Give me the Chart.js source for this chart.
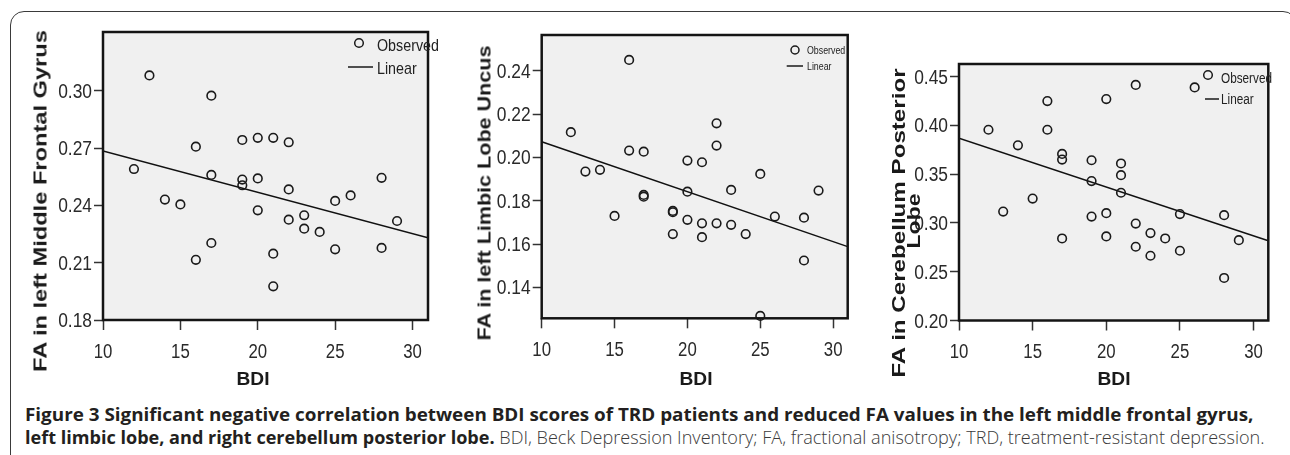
<!DOCTYPE html>
<html>
<head>
<meta charset="utf-8">
<title>Figure 3 - BDI vs FA</title>
<script src="https://cdn.jsdelivr.net/npm/chart.js"></script>
<style>
  html, body { margin: 0; padding: 0; background: #fff; }
  body { width: 1290px; height: 455px; position: relative; overflow: hidden; }
  .frame { position: absolute; left: 10px; top: 11px; width: 1287px; height: 500px;
           border: 1.5px solid #3a3a3a; border-radius: 14px; box-sizing: border-box; }
  canvas { position: absolute; top: 0; }
  .t { position: absolute; white-space: nowrap; line-height: 1; color: #1a1a1a;
       font-family: "Liberation Sans", Arial, sans-serif; font-weight: bold; }
  .cap { position: absolute; left: 25px; white-space: nowrap; line-height: 18px; font-size: 18px;
         font-family: "Open Sans", sans-serif; color: #231f20; transform-origin: 0 50%; }
  .cap b { font-weight: 700; }
  .cap span.lt { font-weight: 300; color: #3a3a3a; }
</style>
</head>
<body>
<div class="frame"></div>

<canvas id="c1" width="395" height="370" style="left:50px"></canvas>
<canvas id="c2" width="365" height="370" style="left:490px"></canvas>
<canvas id="c3" width="380" height="370" style="left:905px"></canvas>

<!-- axis titles -->
<div class="t fit" data-len="342" data-rot="1" data-cx="40" data-cy="201" style="font-size:19px">FA in left Middle Frontal Gyrus</div>
<div class="t fit" data-len="295" data-rot="1" data-cx="483.5" data-cy="192.5" style="font-size:19px">FA in left Limbic Lobe Uncus</div>
<div class="t fit" data-len="309" data-rot="1" data-cx="898" data-cy="222.5" style="font-size:19px">FA in Cerebellum Posterior</div>
<div class="t fit" data-len="55" data-rot="1" data-cx="913" data-cy="220.5" style="font-size:19px">Lobe</div>
<div class="t fit" data-len="33" data-cx="253" data-cy="378" style="font-size:19px">BDI</div>
<div class="t fit" data-len="33" data-cx="696" data-cy="378" style="font-size:19px">BDI</div>
<div class="t fit" data-len="33" data-cx="1113.5" data-cy="378" style="font-size:19px">BDI</div>

<!-- caption -->
<div class="cap fitcap" data-len="1228" style="top:405px"><b>Figure 3 Significant negative correlation between BDI scores of TRD patients and reduced FA values in the left middle frontal gyrus,</b></div>
<div class="cap fitcap" data-len="1240" style="top:428px"><b>left limbic lobe, and right cerebellum posterior lobe.</b> <span class="lt">BDI, Beck Depression Inventory; FA, fractional anisotropy; TRD, treatment-resistant depression.</span></div>

<script>
// BDI score of each patient (same set in all three panels)
const bdi = [12, 13, 14, 15, 16, 16, 17, 17, 17, 19, 19, 19, 20, 20, 20,
             21, 21, 21, 22, 22, 22, 23, 23, 24, 25, 25, 26, 28, 28, 29];

// FA values, in the same order as bdi
const faFrontal = [0.259, 0.308, 0.243, 0.2405, 0.2707, 0.2115, 0.2974, 0.2559, 0.2203,
                   0.2742, 0.2535, 0.2505, 0.2753, 0.2541, 0.2374, 0.2753, 0.2147, 0.1976,
                   0.273, 0.2483, 0.2325, 0.2348, 0.2278, 0.2261, 0.2423, 0.217, 0.2452,
                   0.2544, 0.2177, 0.2318];
const faLimbic = [0.2117, 0.1935, 0.1943, 0.173, 0.2451, 0.2032, 0.2027, 0.1827, 0.1819,
                  0.1753, 0.1747, 0.1646, 0.1986, 0.1842, 0.1712, 0.1978, 0.1696, 0.1632,
                  0.2158, 0.2055, 0.1696, 0.185, 0.1689, 0.1646, 0.1924, 0.1268, 0.1727,
                  0.1722, 0.1524, 0.1847];
const faCerebellum = [0.3956, 0.3117, 0.3796, 0.325, 0.425, 0.3956, 0.3708, 0.365, 0.2841,
                      0.3643, 0.343, 0.3066, 0.427, 0.31, 0.2862, 0.361, 0.349, 0.331,
                      0.4415, 0.2994, 0.2756, 0.2896, 0.2664, 0.2841, 0.3091, 0.2715, 0.439,
                      0.308, 0.2436, 0.2824];

// linear fit end points (x = 10 and x = 31)
const fitX = [10, 31];
const fitFrontal = [0.2685, 0.223];
const fitLimbic = [0.2073, 0.1588];
const fitCerebellum = [0.387, 0.2817];

// tick labels
const xTicks = [10, 15, 20, 25, 30];
const yTicksFrontal = [0.18, 0.21, 0.24, 0.27, 0.30];
const yTicksLimbic = [0.14, 0.16, 0.18, 0.20, 0.22, 0.24];
const yTicksCerebellum = [0.20, 0.25, 0.30, 0.35, 0.40, 0.45];

const legendLabels = ['Observed', 'Linear'];

const sans = "'Liberation Sans', Arial, sans-serif";
const ink = '#1a1a1a';

// narrow text: regular sans squeezed sideways (the figure's fonts are condensed)
function narrowText(ctx, str, x, y, size, align, sx) {
    ctx.save();
    ctx.font = size + 'px ' + sans;
    ctx.textAlign = align;
    ctx.textBaseline = 'alphabetic';
    ctx.translate(x, y);
    ctx.scale(sx, 1);
    ctx.fillText(str, 0, 0);
    ctx.restore();
}

// grey plot area, frame, tick labels and the little legend in the corner
const decor = {
    id: 'decor',
    beforeDraw(chart) {
        const a = chart.chartArea, ctx = chart.ctx;
        ctx.save();
        ctx.fillStyle = '#f0f0f0';
        ctx.fillRect(a.left, a.top, a.right - a.left, a.bottom - a.top);
        ctx.restore();
    },
    afterDraw(chart, args, opts) {
        const a = chart.chartArea, ctx = chart.ctx, lg = opts.legend;
        const xs = chart.scales.x, ys = chart.scales.y;
        ctx.save();
        ctx.strokeStyle = '#141414';
        ctx.lineWidth = 2.5;
        ctx.strokeRect(a.left, a.top, a.right - a.left, a.bottom - a.top);

        // tick labels
        ctx.fillStyle = '#2a2a2a';
        xs.ticks.forEach(t => {
            narrowText(ctx, String(t.value), xs.getPixelForValue(t.value), a.bottom + 37.5, 20, 'center', 0.84);
        });
        ys.ticks.forEach(t => {
            narrowText(ctx, t.value.toFixed(2), a.left - 11, ys.getPixelForValue(t.value) + 7, 20, 'right', 0.87);
        });

        // legend
        ctx.strokeStyle = ink;
        ctx.lineWidth = 1.5;
        ctx.beginPath();
        ctx.arc(lg.cx, lg.cy, lg.r, 0, Math.PI * 2);
        ctx.stroke();
        ctx.beginPath();
        ctx.moveTo(lg.lx1, lg.ly);
        ctx.lineTo(lg.lx2, lg.ly);
        ctx.stroke();
        ctx.fillStyle = '#222';
        narrowText(ctx, legendLabels[0], lg.tx, lg.ty1, lg.size, 'left', 0.84);
        narrowText(ctx, legendLabels[1], lg.tx, lg.ty2, lg.size, 'left', 0.84);
        ctx.restore();
    }
};

function makePanel(id, fa, fit, yMin, yMax, yTicks, box, legend) {
    const ctx = document.getElementById(id).getContext('2d');
    return new Chart(ctx, {
        type: 'scatter',
        data: {
            datasets: [{
                label: legendLabels[0],
                data: bdi.map((x, i) => ({ x: x, y: fa[i] })),
                pointStyle: 'circle',
                pointRadius: 4.3,
                pointBorderWidth: 1.6,
                pointBorderColor: ink,
                pointBackgroundColor: 'rgba(0,0,0,0)',
                clip: false
            }, {
                label: legendLabels[1],
                data: fitX.map((x, i) => ({ x: x, y: fit[i] })),
                showLine: true,
                borderColor: '#111',
                borderWidth: 1.5,
                pointRadius: 0
            }]
        },
        options: {
            responsive: false,
            animation: false,
            events: [],
            layout: { autoPadding: false, padding: { left: 0, top: box.top, right: box.right, bottom: 0 } },
            plugins: {
                legend: { display: false },
                tooltip: { enabled: false },
                decor: { legend: legend }
            },
            scales: {
                x: {
                    type: 'linear',
                    min: 10,
                    max: 31,
                    afterBuildTicks: s => { s.ticks = xTicks.map(v => ({ value: v })); },
                    afterFit: s => { s.height = box.xh; },
                    border: { display: false },
                    grid: { drawOnChartArea: false, drawTicks: true, tickLength: 10, tickWidth: 1.5, tickColor: '#333' },
                    ticks: { display: false }
                },
                y: {
                    type: 'linear',
                    min: yMin,
                    max: yMax,
                    afterBuildTicks: s => { s.ticks = yTicks.map(v => ({ value: v })); },
                    afterFit: s => { s.width = box.yw; },
                    border: { display: false },
                    grid: { drawOnChartArea: false, drawTicks: true, tickLength: 9, tickWidth: 1.5, tickColor: '#333' },
                    ticks: { display: false }
                }
            }
        },
        plugins: [decor]
    });
}

// canvas offsets: c1 at 50, c2 at 490, c3 at 905
makePanel('c1', faFrontal, fitFrontal, 0.18, 0.3307, yTicksFrontal,
    { top: 32, right: 17, yw: 53, xh: 50 },
    { cx: 309, cy: 43, r: 4.3, lx1: 298, lx2: 323, ly: 67, tx: 327, ty1: 51, ty2: 74, size: 17 });
makePanel('c2', faLimbic, fitLimbic, 0.1257, 0.2566, yTicksLimbic,
    { top: 35, right: 7.3, yw: 51.7, xh: 51.7 },
    { cx: 305, cy: 50, r: 4, lx1: 296.7, lx2: 313, ly: 66, tx: 317, ty1: 54, ty2: 70, size: 10.5 });
makePanel('c3', faCerebellum, fitCerebellum, 0.20, 0.463, yTicksCerebellum,
    { top: 64, right: 16.7, yw: 54, xh: 49.5 },
    { cx: 303, cy: 75, r: 4.3, lx1: 300, lx2: 314, ly: 99, tx: 316, ty1: 83, ty2: 104, size: 14 });

// stretch/squeeze html text to the lengths seen in the figure
document.querySelectorAll('.fit').forEach(el => {
    const w = el.getBoundingClientRect().width;
    const s = parseFloat(el.dataset.len) / w;
    el.style.left = el.dataset.cx + 'px';
    el.style.top = el.dataset.cy + 'px';
    const rot = el.dataset.rot ? ' rotate(-90deg)' : '';
    el.style.transform = 'translate(-50%, -50%)' + rot + ' scaleX(' + s.toFixed(3) + ')';
});
document.querySelectorAll('.fitcap').forEach(el => {
    const w = el.getBoundingClientRect().width;
    el.style.transform = 'scaleX(' + (parseFloat(el.dataset.len) / w).toFixed(3) + ')';
});
</script>
</body>
</html>
